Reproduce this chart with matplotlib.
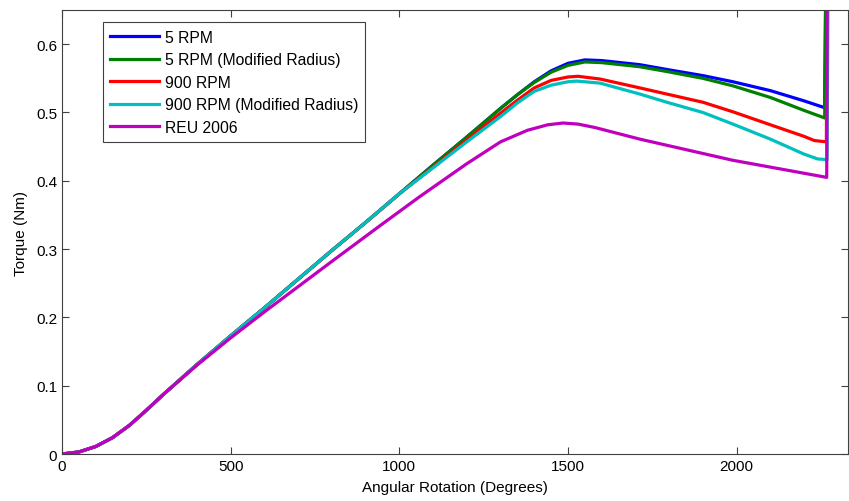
import matplotlib.pyplot as plt
import numpy as np

plt.rcParams['font.family'] = ['Liberation Sans', 'DejaVu Sans']

# shared start of every curve (deg, Nm)
base_x = [0, 50, 100, 150, 200, 250, 300, 400, 500, 600, 700, 800, 900, 1000]
base_y = [0, 0.003, 0.011, 0.024, 0.042, 0.064, 0.087, 0.131, 0.173, 0.214, 0.256, 0.298, 0.339, 0.381]

blue_x = [1100, 1200, 1300, 1350, 1400, 1450, 1500, 1550, 1600, 1713, 1793, 1900, 1989, 2100, 2200, 2261, 2266]
blue_y = [0.423, 0.464, 0.506, 0.526, 0.545, 0.561, 0.572, 0.577, 0.576, 0.570, 0.563, 0.554, 0.545, 0.532, 0.517, 0.507, 0.80]

green_x = [1100, 1200, 1300, 1350, 1400, 1450, 1500, 1550, 1600, 1713, 1793, 1900, 1989, 2100, 2200, 2261, 2266]
green_y = [0.423, 0.464, 0.506, 0.526, 0.544, 0.559, 0.569, 0.574, 0.573, 0.567, 0.560, 0.550, 0.539, 0.522, 0.503, 0.492, 0.80]

red_x = [1100, 1200, 1300, 1350, 1400, 1450, 1500, 1530, 1595, 1713, 1793, 1900, 1989, 2100, 2200, 2230, 2266, 2269]
red_y = [0.420, 0.460, 0.499, 0.518, 0.536, 0.547, 0.552, 0.553, 0.549, 0.536, 0.527, 0.515, 0.501, 0.482, 0.465, 0.459, 0.457, 0.80]

cyan_x = [1100, 1200, 1300, 1350, 1400, 1450, 1500, 1526, 1595, 1713, 1793, 1900, 1989, 2100, 2200, 2240, 2268, 2272]
cyan_y = [0.419, 0.457, 0.494, 0.514, 0.531, 0.540, 0.545, 0.546, 0.543, 0.527, 0.515, 0.500, 0.483, 0.461, 0.439, 0.432, 0.431, 0.80]

mag_x = [0, 50, 100, 150, 200, 250, 300, 400, 500, 600, 700, 800, 942, 1061, 1200, 1300, 1380,
         1440, 1485, 1530, 1580, 1713, 1793, 1989, 2267, 2269]
mag_y = [0, 0.003, 0.011, 0.024, 0.042, 0.064, 0.087, 0.130, 0.170, 0.208, 0.245, 0.282, 0.334, 0.377,
         0.425, 0.457, 0.474, 0.482, 0.4846, 0.483, 0.478, 0.461, 0.452, 0.430, 0.405, 0.80]

labels = ['5 RPM', '5 RPM (Modified Radius)', '900 RPM', '900 RPM (Modified Radius)', 'REU 2006']
colors = ['#0000ff', '#008000', '#ff0000', '#00bfbf', '#bf00bf']


def main():
    fig = plt.figure(figsize=(8.49, 5.02), dpi=100)
    ax = fig.add_axes([0.073, 0.0936, 0.9258, 0.8844])

    series = [(blue_x, blue_y), (green_x, green_y), (red_x, red_y), (cyan_x, cyan_y)]
    for (sx, sy), lab, col in zip(series, labels[:4], colors[:4]):
        ax.plot(base_x + sx, base_y + sy, color=col, lw=2.3, label=lab)
    ax.plot(mag_x, mag_y, color=colors[4], lw=2.3, label=labels[4])

    ax.set_xlim(0, 2330)
    ax.set_ylim(0, 0.65)
    ax.set_xticks([0, 500, 1000, 1500, 2000])
    ax.set_yticks(np.arange(0, 0.61, 0.1))
    ax.set_yticklabels(['0', '0.1', '0.2', '0.3', '0.4', '0.5', '0.6'])
    ax.tick_params(direction='in', top=True, right=True, length=5, labelsize=11,
                   color='#404040')
    for s in ax.spines.values():
        s.set_color('#404040')
        s.set_linewidth(0.8)

    ax.set_xlabel('Angular Rotation (Degrees)', fontsize=11, labelpad=5)
    ax.set_ylabel('Torque (Nm)', fontsize=11, labelpad=6)

    leg = ax.legend(loc='upper left', bbox_to_anchor=(0.052, 0.972), borderaxespad=0,
                    fontsize=11.3, fancybox=False, framealpha=1, handlelength=3.1,
                    labelspacing=0.48, handletextpad=0.4, borderpad=0.45)
    leg.get_frame().set_edgecolor('#404040')
    leg.get_frame().set_linewidth(0.8)

    fig.savefig('out.png', dpi=100)


if __name__ == '__main__':
    main()
